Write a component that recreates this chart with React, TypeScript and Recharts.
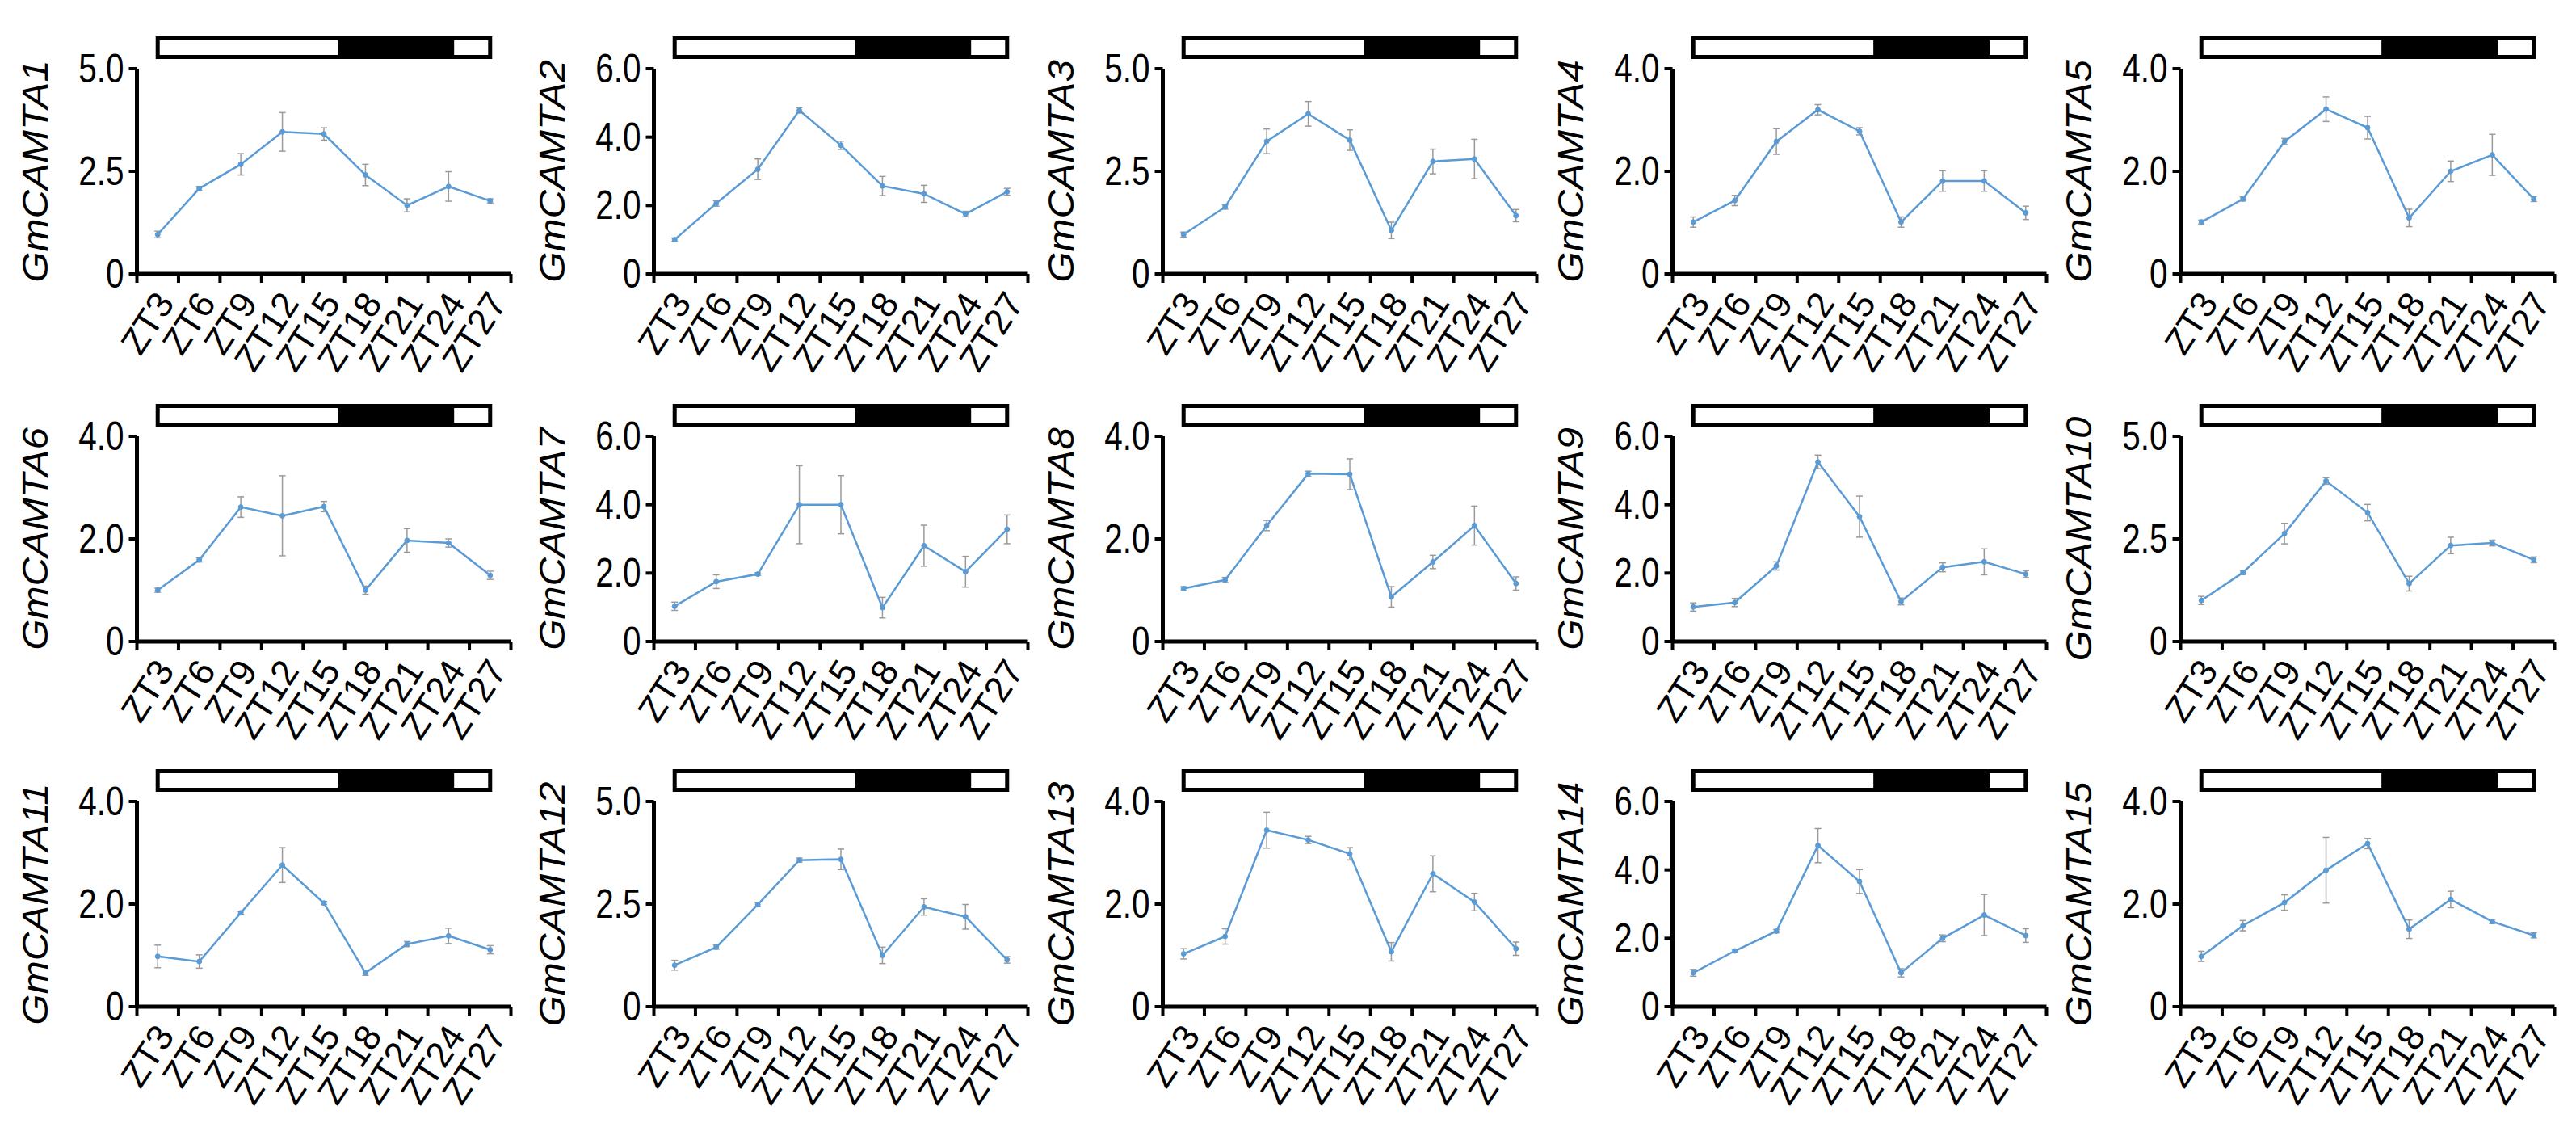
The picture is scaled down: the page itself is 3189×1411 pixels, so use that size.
import { LineChart, Line, XAxis, YAxis, ErrorBar, ReferenceArea } from "recharts";

// sampling times and their labels
const hours = [3, 6, 9, 12, 15, 18, 21, 24, 27];
const categories = ["ZT3", "ZT6", "ZT9", "ZT12", "ZT15", "ZT18", "ZT21", "ZT24", "ZT27"];

const genes = [
  "GmCAMTA1", "GmCAMTA2", "GmCAMTA3", "GmCAMTA4", "GmCAMTA5",
  "GmCAMTA6", "GmCAMTA7", "GmCAMTA8", "GmCAMTA9", "GmCAMTA10",
  "GmCAMTA11", "GmCAMTA12", "GmCAMTA13", "GmCAMTA14", "GmCAMTA15",
];
const yMax = [5, 6, 5, 4, 4, 4, 6, 4, 6, 5, 4, 5, 4, 6, 4];

// light / dark bar (ZT hours)
const lightStart = 3;
const darkStart = 16;
const darkEnd = 24.4;
const lightEnd = 27;

const mean1 = [0.96, 2.08, 2.67, 3.46, 3.41, 2.41, 1.67, 2.13, 1.78];
const sd1 = [0.08, 0.05, 0.26, 0.47, 0.15, 0.26, 0.16, 0.36, 0.05];
const mean2 = [1.0, 2.06, 3.06, 4.78, 3.76, 2.57, 2.34, 1.75, 2.4];
const sd2 = [0.05, 0.08, 0.3, 0.08, 0.12, 0.28, 0.25, 0.08, 0.1];
const mean3 = [0.96, 1.63, 3.23, 3.9, 3.26, 1.06, 2.74, 2.8, 1.42];
const sd3 = [0.06, 0.05, 0.3, 0.3, 0.25, 0.2, 0.3, 0.48, 0.15];
const mean4 = [1.01, 1.43, 2.58, 3.2, 2.78, 1.01, 1.81, 1.81, 1.19];
const sd4 = [0.1, 0.1, 0.25, 0.1, 0.07, 0.1, 0.2, 0.2, 0.13];
const mean5 = [1.01, 1.46, 2.58, 3.21, 2.85, 1.09, 2.0, 2.32, 1.46];
const sd5 = [0.04, 0.04, 0.06, 0.24, 0.22, 0.17, 0.2, 0.4, 0.05];
const mean6 = [1.0, 1.59, 2.62, 2.45, 2.63, 1.0, 1.97, 1.92, 1.29];
const sd6 = [0.04, 0.04, 0.2, 0.78, 0.1, 0.08, 0.23, 0.08, 0.08];
const mean7 = [1.03, 1.75, 1.97, 4.0, 4.0, 0.99, 2.8, 2.04, 3.28];
const sd7 = [0.12, 0.2, 0.04, 1.14, 0.85, 0.3, 0.6, 0.45, 0.42];
const mean8 = [1.03, 1.2, 2.26, 3.27, 3.26, 0.87, 1.55, 2.26, 1.13];
const sd8 = [0.04, 0.05, 0.1, 0.05, 0.3, 0.2, 0.13, 0.38, 0.13];
const mean9 = [1.01, 1.14, 2.21, 5.25, 3.65, 1.17, 2.17, 2.33, 1.97];
const sd9 = [0.12, 0.12, 0.12, 0.2, 0.6, 0.1, 0.13, 0.38, 0.1];
const mean10 = [1.0, 1.68, 2.63, 3.91, 3.14, 1.41, 2.34, 2.4, 1.99];
const sd10 = [0.1, 0.05, 0.25, 0.08, 0.2, 0.18, 0.2, 0.07, 0.07];
const mean11 = [0.98, 0.88, 1.83, 2.76, 2.02, 0.66, 1.22, 1.38, 1.11];
const sd11 = [0.22, 0.13, 0.03, 0.34, 0.03, 0.05, 0.05, 0.15, 0.08];
const mean12 = [1.01, 1.45, 2.49, 3.57, 3.59, 1.25, 2.43, 2.19, 1.14];
const sd12 = [0.12, 0.05, 0.05, 0.05, 0.25, 0.2, 0.2, 0.3, 0.08];
const mean13 = [1.03, 1.37, 3.44, 3.25, 2.98, 1.07, 2.59, 2.04, 1.13];
const sd13 = [0.1, 0.15, 0.35, 0.07, 0.12, 0.18, 0.35, 0.17, 0.13];
const mean14 = [0.99, 1.63, 2.21, 4.71, 3.66, 0.99, 2.0, 2.68, 2.08];
const sd14 = [0.1, 0.05, 0.05, 0.5, 0.35, 0.12, 0.1, 0.6, 0.2];
const mean15 = [0.98, 1.58, 2.03, 2.66, 3.18, 1.51, 2.09, 1.66, 1.39];
const sd15 = [0.1, 0.1, 0.15, 0.64, 0.1, 0.18, 0.16, 0.04, 0.05];

const means = [mean1, mean2, mean3, mean4, mean5, mean6, mean7, mean8, mean9, mean10, mean11, mean12, mean13, mean14, mean15];
const sds = [sd1, sd2, sd3, sd4, sd5, sd6, sd7, sd8, sd9, sd10, sd11, sd12, sd13, sd14, sd15];

const FONT = "'Liberation Sans', Arial, sans-serif";
const LINE = "#5b9bd5";
const colLeft = [0, 640, 1270, 1901, 2530];
const rowTop = [0, 455, 907];

// tick marks sit between the sampling times, labels sit on them
const step = hours[1] - hours[0];
const xTicks = hours.flatMap((h) => [h - step / 2, h]).concat(hours[hours.length - 1] + step / 2);

function XTick(props: any) {
  const { x, y, payload } = props;
  const i = hours.indexOf(payload.value);
  if (i < 0) {
    return <line x1={x} x2={x} y1={y} y2={y + 11} stroke="#000" strokeWidth={4} />;
  }
  const ax = x + 22;
  const ay = y + 36;
  return (
    <text
      x={ax}
      y={ay}
      transform={`rotate(-57 ${ax} ${ay})`}
      textAnchor="end"
      fontSize={45}
      fontFamily={FONT}
      fill="#000"
    >
      {categories[i]}
    </text>
  );
}

function YTick(props: any) {
  const { x, y, payload } = props;
  const v = payload.value as number;
  const s = v === 0 ? "0" : v.toFixed(1);
  return (
    <text
      x={0}
      y={0}
      transform={`translate(${x} ${y}) scale(0.92 1.12)`}
      textAnchor="end"
      dominantBaseline="central"
      fontSize={44}
      fontFamily={FONT}
      fill="#000"
    >
      {s}
    </text>
  );
}

function Panel({ idx }: { idx: number }) {
  const max = yMax[idx];
  const yStep = max % 2 === 0 ? 2 : max / 2;
  const yTicks: number[] = [];
  for (let v = 0; v <= max + 1e-9; v += yStep) yTicks.push(v);
  const rows = hours.map((h, i) => ({ t: h, label: categories[i], mean: means[idx][i], sd: sds[idx][i] }));
  const barLow = max * 1.057;
  const barHigh = max * 1.148;

  return (
    <LineChart
      width={640}
      height={489}
      data={rows}
      margin={{ top: 85, right: 7.5, left: 0, bottom: 0 }}
      style={{ overflow: "visible" }}
    >
      <XAxis
        dataKey="t"
        type="number"
        domain={[xTicks[0], xTicks[xTicks.length - 1]]}
        ticks={xTicks}
        interval={0}
        height={150}
        tickSize={0}
        tickMargin={0}
        tickLine={false}
        axisLine={{ stroke: "#000", strokeWidth: 5 }}
        tick={<XTick />}
      />
      <YAxis
        type="number"
        domain={[0, max]}
        ticks={yTicks}
        interval={0}
        width={169.5}
        tickSize={10}
        tickMargin={6}
        axisLine={{ stroke: "#000", strokeWidth: 5 }}
        tickLine={{ stroke: "#000", strokeWidth: 4 }}
        tick={<YTick />}
        label={{
          value: genes[idx],
          content: (p: any) => {
            const vb = p.viewBox;
            const cx = vb.x + 44;
            const cy = vb.y + vb.height / 2;
            return (
              <text
                x={0}
                y={0}
                transform={`translate(${cx} ${cy}) rotate(-90) scale(1.12 1)`}
                textAnchor="middle"
                dominantBaseline="central"
                fontSize={44}
                fontStyle="italic"
                fontFamily={FONT}
                fill="#000"
              >
                {genes[idx]}
              </text>
            );
          },
        }}
      />
      <ReferenceArea
        x1={lightStart}
        x2={lightEnd}
        y1={barLow}
        y2={barHigh}
        fill="#fff"
        fillOpacity={1}
        stroke="#000"
        strokeWidth={5}
        ifOverflow="visible"
      />
      <ReferenceArea
        x1={darkStart}
        x2={darkEnd}
        y1={barLow}
        y2={barHigh}
        fill="#000"
        fillOpacity={1}
        ifOverflow="visible"
      />
      <Line
        dataKey="mean"
        stroke={LINE}
        strokeWidth={2.5}
        dot={{ r: 3, fill: LINE, stroke: LINE, strokeWidth: 1 }}
        isAnimationActive={false}
      >
        <ErrorBar dataKey="sd" width={4} stroke="#9a9a9a" strokeWidth={1.5} direction="y" />
      </Line>
    </LineChart>
  );
}

export default function App() {
  return (
    <div style={{ position: "absolute", left: 0, top: 0, width: 3189, height: 1411, background: "#fff", overflow: "hidden" }}>
      {genes.map((g, idx) => (
        <div
          key={g}
          style={{ position: "absolute", left: colLeft[idx % 5], top: rowTop[Math.floor(idx / 5)] }}
        >
          <Panel idx={idx} />
        </div>
      ))}
    </div>
  );
}
